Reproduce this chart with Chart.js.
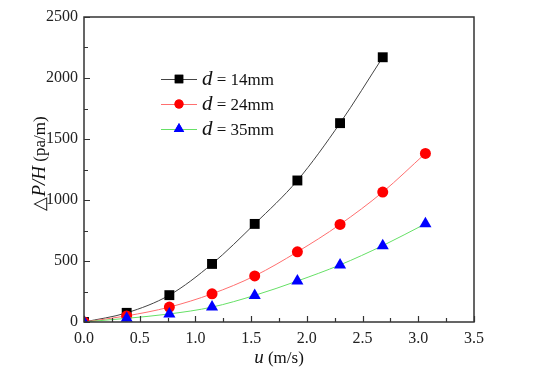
<!DOCTYPE html>
<html>
<head>
<meta charset="utf-8">
<script src="https://cdn.jsdelivr.net/npm/chart.js@4"></script>
<style>
  html, body { margin: 0; padding: 0; background: #fff; }
  #wrap { width: 550px; height: 370px; }
</style>
</head>
<body>
<div id="wrap"><canvas id="pressureChart" width="550" height="370"></canvas></div>
<script>
// velocity u (m/s)
const velocity = [0, 0.383, 0.766, 1.149, 1.532, 1.915, 2.298, 2.681, 3.064];
// pressure drop per height (pa/m)
const d14 = [0, 75, 220, 476, 804, 1160, 1630, 2170];
const d24 = [0, 50, 122, 231, 378, 575, 800, 1065, 1382];
const d35 = [0, 30, 66, 122, 218, 336, 468, 626, 805];
const legendNames = ["14mm", "24mm", "35mm"];
const xTicks = [0, 0.5, 1.0, 1.5, 2.0, 2.5, 3.0, 3.5];
const yTicks = [0, 500, 1000, 1500, 2000, 2500];

const serif = "'Liberation Serif', 'Times New Roman', serif";

function toPoints(ys) {
  return ys.map((y, i) => ({ x: velocity[i], y: y }));
}

const series = [
  { data: d14, line: '#444444', fill: '#000000', shape: 'rect', radius: 7 },
  { data: d24, line: '#ff6f6f', fill: '#ff0000', shape: 'circle', radius: 5.5 },
  { data: d35, line: '#66e066', fill: '#0000ff', shape: 'triangle', radius: 7 }
];

// inward ticks, frame, titles and legend
const decorPlugin = {
  id: 'decor',
  afterDatasetsDraw(chart) {
    const ctx = chart.ctx;
    const area = chart.chartArea;
    const xs = chart.scales.x, ys = chart.scales.y;
    ctx.save();
    ctx.strokeStyle = '#333';
    ctx.lineWidth = 1.5;
    ctx.strokeRect(area.left, area.top, area.right - area.left, area.bottom - area.top);

    ctx.lineWidth = 1.2;
    ctx.beginPath();
    for (let v = 0; v <= 3.5001; v += 0.25) {
      const px = Math.round(xs.getPixelForValue(v)) + 0.5;
      const major = Math.abs(v * 2 - Math.round(v * 2)) < 1e-6;
      ctx.moveTo(px, area.bottom);
      ctx.lineTo(px, area.bottom - (major ? 6 : 4));
    }
    for (let v = 0; v <= 2500; v += 250) {
      const py = Math.round(ys.getPixelForValue(v)) + 0.5;
      const major = v % 500 === 0;
      ctx.moveTo(area.left, py);
      ctx.lineTo(area.left + (major ? 6 : 4), py);
    }
    ctx.stroke();

    // x title
    ctx.fillStyle = '#111';
    ctx.textBaseline = 'alphabetic';
    const xt = [['italic 19px ' + serif, 'u'], ['17px ' + serif, ' (m/s)']];
    drawRich(ctx, xt, (area.left + area.right) / 2, 363, true);

    // y title (rotated)
    ctx.save();
    ctx.translate(45, (area.top + area.bottom) / 2 - 6);
    ctx.rotate(-Math.PI / 2);
    const yt = [['18px ' + serif, '\u25B3'], ['italic 19px ' + serif, 'P/H'], ['17px ' + serif, ' (pa/m)']];
    drawRich(ctx, yt, 0, 0, true);
    ctx.restore();

    // legend
    const rows = [79, 104, 129];
    series.forEach((s, i) => {
      const y = rows[i];
      ctx.strokeStyle = s.line;
      ctx.lineWidth = 1;
      ctx.beginPath();
      ctx.moveTo(161, y + 0.5);
      ctx.lineTo(197, y + 0.5);
      ctx.stroke();
      ctx.fillStyle = s.fill;
      Chart.helpers.drawPoint(ctx, { pointStyle: s.shape, radius: s.radius - 1, borderWidth: 0 }, 179, y);
      ctx.fill();
      ctx.fillStyle = '#111';
      const parts = [['italic 21px ' + serif, 'd'], ['17px ' + serif, ' = ' + legendNames[i]]];
      drawRich(ctx, parts, 202, y + 6, false);
    });
    ctx.restore();
  }
};

function drawRich(ctx, parts, x, y, centered) {
  let total = 0;
  parts.forEach(p => { ctx.font = p[0]; total += ctx.measureText(p[1]).width; });
  let cx = centered ? x - total / 2 : x;
  ctx.textAlign = 'left';
  parts.forEach(p => {
    ctx.font = p[0];
    ctx.fillText(p[1], cx, y);
    cx += ctx.measureText(p[1]).width;
  });
}

const ctx = document.getElementById('pressureChart').getContext('2d');
const chart = new Chart(ctx, {
  type: 'scatter',
  data: {
    datasets: series.map((s, i) => ({
      data: toPoints(s.data),
      order: 3 - i,
      showLine: true,
      borderColor: s.line,
      borderWidth: 1,
      tension: 0.4,
      cubicInterpolationMode: 'monotone',
      pointStyle: s.shape,
      pointRadius: s.radius,
      pointBackgroundColor: s.fill,
      pointBorderColor: s.fill,
      pointBorderWidth: 0,
      clip: 0
    }))
  },
  options: {
    responsive: false,
    animation: false,
    layout: { padding: { left: 0, top: 17, right: 76, bottom: 0 } },
    plugins: { legend: { display: false }, tooltip: { enabled: false } },
    scales: {
      x: {
        type: 'linear',
        min: 0, max: 3.5,
        afterBuildTicks(scale) { scale.ticks = xTicks.map(v => ({ value: v })); },
        afterFit(scale) { scale.height = 48; },
        grid: { display: false, drawTicks: false },
        border: { display: false },
        ticks: {
          padding: 7,
          color: '#222',
          font: { family: serif, size: 16 },
          callback: v => v.toFixed(1)
        }
      },
      y: {
        type: 'linear',
        min: 0, max: 2500,
        afterBuildTicks(scale) { scale.ticks = yTicks.map(v => ({ value: v })); },
        afterFit(scale) { scale.width = 84; },
        grid: { display: false, drawTicks: false },
        border: { display: false },
        ticks: {
          padding: 6,
          color: '#222',
          font: { family: serif, size: 16 },
          callback: v => String(v)
        }
      }
    }
  },
  plugins: [decorPlugin]
});
</script>
</body>
</html>
